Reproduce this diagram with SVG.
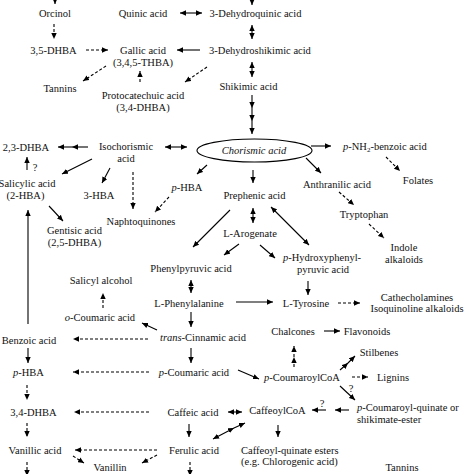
<svg xmlns="http://www.w3.org/2000/svg" width="474" height="474" viewBox="0 0 474 474" font-family="'Liberation Serif','Times New Roman',serif">
<defs>
<marker id="h" viewBox="0 0 10 10" refX="10" refY="5" markerWidth="6" markerHeight="6" markerUnits="userSpaceOnUse" orient="auto-start-reverse"><path d="M0,0.5 L10,5 L0,9.5 z" fill="#000"/></marker>
</defs>
<style>
.t{font-family:"Liberation Serif","Times New Roman",serif;font-size:10.5px;fill:#111;text-anchor:middle}
.st{text-anchor:start}
.i{font-style:italic}
.s{stroke:#000;stroke-width:1.1;fill:none;marker-end:url(#h)}
.d{stroke-dasharray:3 2}
.b{marker-start:url(#h)}
.m{marker-mid:url(#h)}
</style>
<rect width="474" height="474" fill="#fff"/>
<g id="connectors">
<line class="s" x1="252" y1="-6" x2="252" y2="5"/>
<line class="s b" x1="180" y1="13" x2="202" y2="13"/>
<line class="s b" x1="252" y1="25" x2="252" y2="39"/>
<line class="s" x1="200" y1="50" x2="177" y2="50"/>
<line class="s b" x1="252" y1="62" x2="252" y2="77"/>
<polyline class="s m" points="252,95 252,108 252,121 252,134"/>
<line class="s b" x1="165" y1="147" x2="187" y2="147"/>
<polyline class="s m" points="88,147 72,147 58,147"/>
<line class="s" x1="311" y1="146" x2="331" y2="146"/>
<line class="s" x1="306" y1="158" x2="321" y2="173"/>
<line class="s" x1="253" y1="170" x2="253" y2="183"/>
<line class="s" x1="207" y1="165" x2="197" y2="174"/>
<line class="s" x1="110" y1="168" x2="102" y2="183"/>
<line class="s" x1="92" y1="159" x2="62" y2="174"/>
<line class="s" x1="27" y1="170" x2="27" y2="157"/>
<line class="s" x1="49" y1="206" x2="63" y2="221"/>
<line class="s" x1="28" y1="324" x2="28" y2="210"/>
<line class="s" x1="230" y1="210" x2="193" y2="247"/>
<line class="s b" x1="253" y1="208" x2="253" y2="223"/>
<line class="s" x1="239" y1="244" x2="224" y2="255"/>
<line class="s" x1="260" y1="245" x2="275" y2="258"/>
<line class="s b" x1="271" y1="207" x2="309" y2="245"/>
<line class="s" x1="308" y1="281" x2="308" y2="295"/>
<line class="s b" x1="191" y1="280" x2="191" y2="293"/>
<line class="s" x1="236" y1="302" x2="273" y2="302"/>
<line class="s" x1="191" y1="312" x2="191" y2="327"/>
<line class="s" x1="157" y1="330" x2="142" y2="323"/>
<line class="s" x1="28" y1="348" x2="28" y2="363"/>
<line class="s" x1="191" y1="348" x2="191" y2="363"/>
<line class="s" x1="238" y1="370" x2="259" y2="379"/>
<line class="s" x1="324" y1="331" x2="340" y2="331"/>
<polyline class="s m" points="340,370 348,363 355,356"/>
<line class="s" x1="340" y1="386" x2="355" y2="400"/>
<line class="s" x1="349" y1="410" x2="335" y2="410"/>
<line class="s" x1="326" y1="410" x2="312" y2="410"/>
<line class="s b" x1="228" y1="412" x2="242" y2="412"/>
<line class="s" x1="189" y1="424" x2="189" y2="437"/>
<polyline class="s b m" points="213,439 234,428 245,423"/>
<line class="s" x1="278" y1="425" x2="278" y2="437"/>
<line class="s d" x1="55" y1="-4" x2="55" y2="4"/>
<line class="s d" x1="54" y1="24" x2="54" y2="39"/>
<line class="s d" x1="86" y1="50" x2="108" y2="50"/>
<line class="s d" x1="106" y1="66" x2="83" y2="81"/>
<line class="s d" x1="140" y1="82" x2="140" y2="71"/>
<line class="s d" x1="207" y1="67" x2="185" y2="82"/>
<line class="s d" x1="386" y1="157" x2="400" y2="171"/>
<line class="s d" x1="339" y1="192" x2="354" y2="205"/>
<line class="s d" x1="369" y1="224" x2="384" y2="238"/>
<line class="s d" x1="169" y1="197" x2="155" y2="212"/>
<line class="s d" x1="133" y1="172" x2="133" y2="209"/>
<line class="s d" x1="103" y1="308" x2="103" y2="293"/>
<line class="s d" x1="338" y1="303" x2="360" y2="303"/>
<line class="s d" x1="148" y1="339" x2="73" y2="339"/>
<line class="s d" x1="149" y1="372" x2="73" y2="372"/>
<polyline class="s d m" points="294,367 294,357 294,346"/>
<line class="s d" x1="352" y1="377" x2="368" y2="377"/>
<line class="s d" x1="149" y1="412" x2="74" y2="412"/>
<line class="s d" x1="27" y1="385" x2="27" y2="400"/>
<line class="s d" x1="27" y1="423" x2="27" y2="437"/>
<line class="s d" x1="157" y1="450" x2="75" y2="450"/>
<line class="s d" x1="27" y1="462" x2="27" y2="476"/>
<line class="s d" x1="73" y1="456" x2="84" y2="463"/>
<line class="s d" x1="157" y1="455" x2="142" y2="463"/>
<line class="s d" x1="190" y1="462" x2="190" y2="476"/>
</g>
<g id="orcinol"><text class="t" x="55" y="17">Orcinol</text></g>
<g id="quinic"><text class="t" x="143" y="17">Quinic acid</text></g>
<g id="dehydroquinic"><text class="t" x="255.5" y="17">3-Dehydroquinic acid</text></g>
<g id="dhba35"><text class="t" x="53.5" y="54">3,5-DHBA</text></g>
<g id="gallic"><text class="t" x="143" y="54">Gallic acid</text><text class="t" x="143" y="66">(3,4,5-THBA)</text></g>
<g id="dehydroshikimic"><text class="t" x="260" y="54">3-Dehydroshikimic acid</text></g>
<g id="tannins1"><text class="t" x="60" y="92">Tannins</text></g>
<g id="protocatechuic"><text class="t" x="143" y="99">Protocatechuic acid</text><text class="t" x="143" y="111">(3,4-DHBA)</text></g>
<g id="shikimic"><text class="t" x="248.5" y="90">Shikimic acid</text></g>
<g id="chorismic"><ellipse cx="254.5" cy="150.5" rx="57.5" ry="11.5" fill="none" stroke="#000" stroke-width="1.1"/><text class="t i" x="254" y="154">Chorismic acid</text></g>
<g id="isochorismic"><text class="t" x="126" y="150">Isochorismic</text><text class="t" x="126" y="162">acid</text></g>
<g id="dhba23"><text class="t" x="26" y="151">2,3-DHBA</text></g>
<g id="pnh2"><text class="t st" x="343" y="150"><tspan class="i">p</tspan>-NH<tspan font-size="7" dy="2">2</tspan><tspan dy="-2">-benzoic acid</tspan></text></g>
<g id="folates"><text class="t" x="418" y="184">Folates</text></g>
<g id="anthranilic"><text class="t" x="337" y="188">Anthranilic acid</text></g>
<g id="phba1"><text class="t" x="187" y="191"><tspan class="i">p</tspan>-HBA</text></g>
<g id="prephenic"><text class="t" x="254.5" y="199">Prephenic acid</text></g>
<g id="salicylic"><text class="t" x="27" y="187">Salicylic acid</text><text class="t" x="25.5" y="199">(2-HBA)</text></g>
<g id="q1"><text class="t" x="35" y="171">?</text></g>
<g id="hba3"><text class="t" x="99" y="199">3-HBA</text></g>
<g id="naphtoquinones"><text class="t" x="141" y="225">Naphtoquinones</text></g>
<g id="tryptophan"><text class="t" x="364" y="218">Tryptophan</text></g>
<g id="gentisic"><text class="t" x="74.5" y="234">Gentisic acid</text><text class="t" x="74.5" y="246">(2,5-DHBA)</text></g>
<g id="arogenate"><text class="t" x="250" y="237">L-Arogenate</text></g>
<g id="indole"><text class="t" x="404" y="251">Indole</text><text class="t" x="404" y="263">alkaloids</text></g>
<g id="phpp"><text class="t" x="322" y="261"><tspan class="i">p</tspan>-Hydroxyphenyl-</text><text class="t" x="323" y="273">pyruvic acid</text></g>
<g id="phenylpyruvic"><text class="t" x="191" y="272">Phenylpyruvic acid</text></g>
<g id="salicylalcohol"><text class="t" x="101" y="284">Salicyl alcohol</text></g>
<g id="cathecholamines"><text class="t" x="417" y="301">Cathecholamines</text><text class="t" x="417" y="312">Isoquinoline alkaloids</text></g>
<g id="phenylalanine"><text class="t" x="189" y="307">L-Phenylalanine</text></g>
<g id="tyrosine"><text class="t" x="306" y="307">L-Tyrosine</text></g>
<g id="ocoumaric"><text class="t" x="100" y="321"><tspan class="i">o</tspan>-Coumaric acid</text></g>
<g id="chalcones"><text class="t" x="293" y="335">Chalcones</text></g>
<g id="flavonoids"><text class="t" x="367" y="335">Flavonoids</text></g>
<g id="cinnamic"><text class="t" x="203" y="341"><tspan class="i">trans</tspan>-Cinnamic acid</text></g>
<g id="benzoic"><text class="t" x="29" y="344">Benzoic acid</text></g>
<g id="stilbenes"><text class="t" x="379" y="356">Stilbenes</text></g>
<g id="phba2"><text class="t" x="28.5" y="376"><tspan class="i">p</tspan>-HBA</text></g>
<g id="pcoumaric"><text class="t" x="194" y="376"><tspan class="i">p</tspan>-Coumaric acid</text></g>
<g id="pcoumaroylcoa"><text class="t" x="302" y="381"><tspan class="i">p</tspan>-CoumaroylCoA</text></g>
<g id="lignins"><text class="t" x="393" y="381">Lignins</text></g>
<g id="q2"><text class="t" x="351" y="392">?</text></g>
<g id="pcoumaroylquinate"><text class="t st" x="357" y="411"><tspan class="i">p</tspan>-Coumaroyl-quinate or</text><text class="t st" x="357" y="423">shikimate-ester</text></g>
<g id="dhba34"><text class="t" x="33.5" y="416">3,4-DHBA</text></g>
<g id="caffeic"><text class="t" x="193" y="416">Caffeic acid</text></g>
<g id="caffeoylcoa"><text class="t" x="277.5" y="414">CaffeoylCoA</text></g>
<g id="q3"><text class="t" x="322" y="407">?</text></g>
<g id="caffeoylquinate"><text class="t st" x="241" y="454">Caffeoyl-quinate esters</text><text class="t st" x="241" y="465">(e.g. Chlorogenic acid)</text></g>
<g id="vanillic"><text class="t" x="35" y="454">Vanillic acid</text></g>
<g id="ferulic"><text class="t" x="194" y="454">Ferulic acid</text></g>
<g id="vanillin"><text class="t" x="110" y="471">Vanillin</text></g>
<g id="tannins2"><text class="t" x="402" y="471">Tannins</text></g>
</svg>
